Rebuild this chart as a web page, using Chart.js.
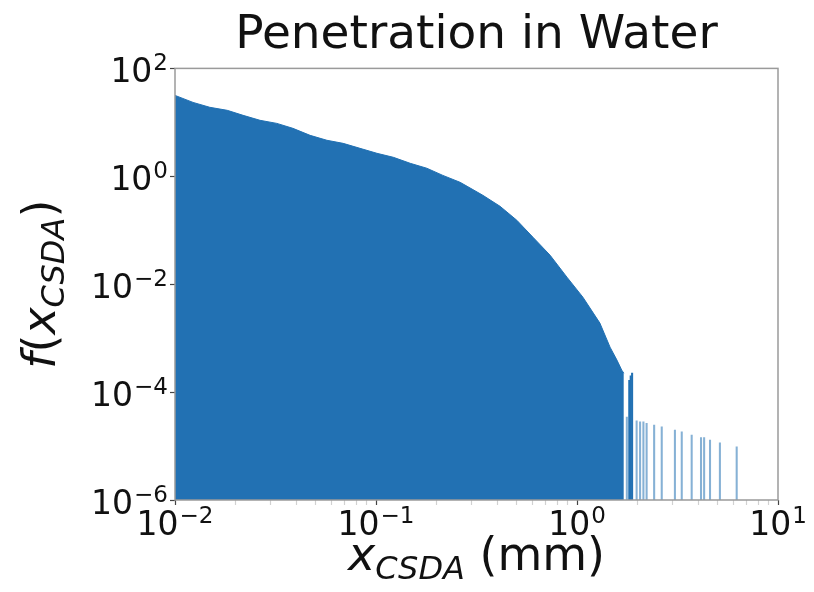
<!DOCTYPE html>
<html>
<head>
<meta charset="utf-8">
<title>Penetration in Water</title>
<script src="https://cdn.jsdelivr.net/npm/chart.js@4.4.1/dist/chart.umd.min.js"></script>
<style>
    html, body { margin: 0; padding: 0; background: #fff; }
    .chart-container { position: relative; width: 814px; height: 592px; }
</style>
</head>
<body>
<div class="chart-container">
    <canvas id="rangeChart"></canvas>
</div>
<script>
    // CSDA range histogram: range in mm, normalised density
    const bodyRange = [0.0100, 0.0123, 0.0149, 0.0182, 0.0218, 0.0265, 0.0321, 0.0386, 0.0470, 0.0570,
                       0.0686, 0.0832, 0.101, 0.122, 0.148, 0.179, 0.215, 0.262, 0.284, 0.340,
                       0.414, 0.502, 0.604, 0.735, 0.891, 1.07, 1.30, 1.46, 1.58, 1.67, 1.71];
    const bodyDensity = [31.6, 23.4, 19.0, 16.7, 13.5, 10.9, 9.57, 7.74, 5.74, 4.65,
                         4.08, 3.30, 2.67, 2.25, 1.74, 1.41, 1.04, 0.774, 0.653, 0.445,
                         0.278, 0.153, 0.0741, 0.0344, 0.0135, 0.00574, 0.00190, 0.000681, 0.000392, 0.000255, 0.000224];

    // sparse bins past the main peak (mostly single counts)
    const tailRange = [1.77, 1.82, 1.85, 1.88, 1.98, 2.06, 2.14, 2.22, 2.42, 2.64, 3.07, 3.32, 3.72, 4.14, 4.29, 4.59, 5.14, 6.23];
    const tailDensity = [3.44e-5, 1.66e-4, 2.0e-4, 2.25e-4, 2.94e-5, 2.82e-5, 2.82e-5, 2.63e-5, 2.45e-5, 2.28e-5,
                         1.98e-5, 1.84e-5, 1.60e-5, 1.43e-5, 1.43e-5, 1.29e-5, 1.15e-5, 9.7e-6];

    const xTickPowers = [-2, -1, 0, 1];
    const yTickPowers = [2, 0, -2, -4, -6];

    const blue = '#2271b3';
    const paleBlue = 'rgba(34, 113, 179, 0.55)';
    const fontFamily = '"DejaVu Sans", sans-serif';

    function powerOf(value) {
        const e = Math.log10(value);
        return Math.abs(e - Math.round(e)) < 1e-6 ? Math.round(e) : null;
    }

    function exponentText(p) {
        return p < 0 ? '\u2212' + Math.abs(p) : String(p);
    }

    // keep 1..9 x 10^n, drop the 1.5 steps chart.js inserts
    function keepDecadeSteps(scale) {
        scale.ticks = scale.ticks.filter(t => {
            const m = t.value / Math.pow(10, Math.floor(Math.log10(t.value) + 1e-9));
            return Math.abs(m - Math.round(m)) < 1e-6;
        });
    }

    // frame round the plot area, like matplotlib spines
    const frame = {
        id: 'frame',
        afterDatasetsDraw(chart) {
            const {ctx, chartArea: a} = chart;
            ctx.save();
            ctx.strokeStyle = '#9a9a9a';
            ctx.lineWidth = 1.5;
            ctx.strokeRect(a.left, a.top, a.right - a.left, a.bottom - a.top);
            ctx.restore();
        }
    };

    // 10^n tick labels with a raised exponent
    const powerTicks = {
        id: 'powerTicks',
        afterDraw(chart) {
            const {ctx} = chart;
            const big = `33px ${fontFamily}`;
            const small = `23px ${fontFamily}`;
            const rise = 12;

            function widths(p) {
                ctx.font = big;
                const w1 = ctx.measureText('10').width;
                ctx.font = small;
                const w2 = ctx.measureText(exponentText(p)).width;
                return [w1, w2];
            }
            function draw(p, left, baseline) {
                const [w1] = widths(p);
                ctx.font = big;
                ctx.fillText('10', left, baseline);
                ctx.font = small;
                ctx.fillText(exponentText(p), left + w1 + 1, baseline - rise);
            }

            ctx.save();
            ctx.fillStyle = '#111';
            ctx.textAlign = 'left';
            ctx.textBaseline = 'alphabetic';

            const xs = chart.scales.x;
            xTickPowers.forEach(p => {
                const px = xs.getPixelForValue(Math.pow(10, p));
                const [w1, w2] = widths(p);
                draw(p, px - (w1 + w2 + 1) / 2, xs.top + 35);
            });

            const ys = chart.scales.y;
            yTickPowers.forEach(p => {
                const py = ys.getPixelForValue(Math.pow(10, p));
                const [w1, w2] = widths(p);
                draw(p, ys.right - 7 - (w1 + w2 + 1), py + 14);
            });
            ctx.restore();
        }
    };

    // axis titles with italic symbol and subscript
    const axisTitles = {
        id: 'axisTitles',
        afterDraw(chart) {
            const {ctx, chartArea: a} = chart;
            const size = 46;
            const upright = `${size}px ${fontFamily}`;
            const slanted = `italic ${size}px ${fontFamily}`;
            const sub = `italic ${Math.round(size * 0.7)}px ${fontFamily}`;
            const drop = size * 0.2;

            function drawRun(parts, cx, baseline) {
                let total = 0;
                parts.forEach(p => { ctx.font = p[1]; total += ctx.measureText(p[0]).width; });
                let x = cx - total / 2;
                parts.forEach(p => {
                    ctx.font = p[1];
                    ctx.fillText(p[0], x, baseline + p[2]);
                    x += ctx.measureText(p[0]).width;
                });
            }

            ctx.save();
            ctx.fillStyle = '#111';
            ctx.textAlign = 'left';
            ctx.textBaseline = 'alphabetic';
            drawRun([['x', slanted, 0], ['CSDA', sub, drop], [' (mm)', upright, 0]], (a.left + a.right) / 2, 570);

            ctx.translate(55, (a.top + a.bottom) / 2);
            ctx.rotate(-Math.PI / 2);
            drawRun([['f', slanted, 0], ['(', upright, 0], ['x', slanted, 0], ['CSDA', sub, drop], [')', upright, 0]], 0, 0);
            ctx.restore();
        }
    };

    function axisOptions(powers, min, max, fitSize, horizontal) {
        return {
            type: 'logarithmic',
            min: min,
            max: max,
            offset: false,
            afterBuildTicks: keepDecadeSteps,
            afterFit: scale => {
                if (horizontal) scale.height = fitSize; else scale.width = fitSize;
            },
            border: { display: false },
            grid: {
                display: true,
                offset: false,
                drawOnChartArea: false,
                drawTicks: true,
                tickLength: 5,
                tickWidth: 1.2,
                tickColor: ctx => {
                    const p = powerOf(ctx.tick.value);
                    if (p !== null && powers.includes(p)) return '#444';
                    return horizontal ? 'rgba(0,0,0,0.18)' : 'rgba(0,0,0,0)';
                }
            },
            // labels are drawn by the powerTicks plugin
            ticks: { display: false, autoSkip: false },
            title: { display: false }
        };
    }

    const rangeCtx = document.getElementById('rangeChart').getContext('2d');
    const rangeChart = new Chart(rangeCtx, {
        type: 'line',
        data: {
            datasets: [
                {
                    type: 'line',
                    label: 'f(x)',
                    data: bodyRange.map((x, i) => ({x: x, y: bodyDensity[i]})),
                    borderColor: blue,
                    borderWidth: 1,
                    backgroundColor: blue,
                    fill: 'start',
                    pointRadius: 0,
                    tension: 0
                },
                {
                    type: 'bar',
                    label: 'tail',
                    data: tailRange.map((x, i) => ({x: x, y: tailDensity[i]})),
                    backgroundColor: tailDensity.map(v => v > 1e-4 ? blue : paleBlue),
                    borderWidth: 0,
                    barThickness: 1.4,
                    grouped: false
                }
            ]
        },
        options: {
            responsive: true,
            maintainAspectRatio: false,
            animation: false,
            layout: { padding: { left: 0, right: 36, top: 0, bottom: 0 } },
            scales: {
                x: axisOptions(xTickPowers, 0.01, 10, 92, true),
                y: axisOptions(yTickPowers, 1e-6, 100, 175, false)
            },
            plugins: {
                legend: { display: false },
                tooltip: { enabled: false },
                title: {
                    display: true,
                    fullSize: false,
                    text: 'Penetration in Water',
                    color: '#111',
                    font: { family: fontFamily, size: 47, weight: 'normal' },
                    padding: { top: 8, bottom: 4 }
                }
            }
        },
        plugins: [frame, powerTicks, axisTitles]
    });
</script>
</body>
</html>
